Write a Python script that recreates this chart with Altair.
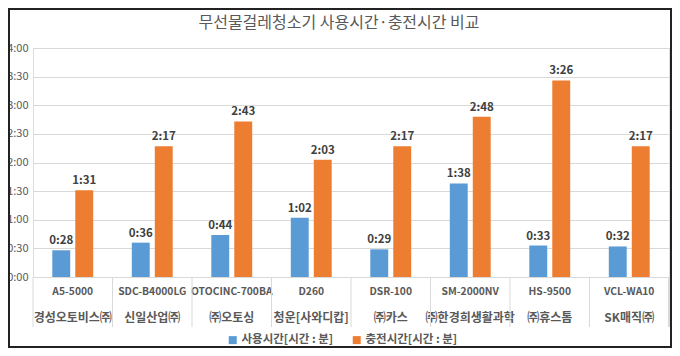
import altair as alt
import pandas as pd

models = ["A5-5000", "SDC-B4000LG", "OTOCINC-700BA", "D260", "DSR-100", "SM-2000NV", "HS-9500", "VCL-WA10"]
companies = ["경성오토비스㈜", "신일산업㈜", "㈜오토싱", "청운[사와디캅]", "㈜카스", "㈜한경희생활과학", "㈜휴스톰", "SK매직㈜"]
use_minutes = [28, 36, 44, 62, 29, 98, 33, 32]
charge_minutes = [91, 137, 163, 123, 137, 168, 206, 137]
series_names = ["사용시간[시간 : 분]", "충전시간[시간 : 분]"]
colors = ["#5B9BD5", "#ED7D31"]
title_text = "무선물걸레청소기 사용시간·충전시간 비교"
y_ticks = [0, 30, 60, 90, 120, 150, 180, 210, 240]

rows = []
for m, u, c in zip(models, use_minutes, charge_minutes):
    rows.append({"cat": m, "series": series_names[0], "v": u})
    rows.append({"cat": m, "series": series_names[1], "v": c})
df = pd.DataFrame(rows)
cat_df = pd.DataFrame({"cat": models, "company": companies})
title_df = pd.DataFrame({"t": [title_text]})

W, H = 636, 229
FONT = "Noto Sans CJK KR"

x_scale = alt.Scale(domain=models, paddingInner=0, paddingOuter=0)
x_enc = alt.X("cat:N", sort=models, title=None, scale=x_scale,
              axis=alt.Axis(labels=False, ticks=False, grid=False, domainColor="#d9d9d9"))
x_plain = alt.X("cat:N", sort=models, scale=x_scale)
xoff_scale = alt.Scale(paddingInner=0.22, paddingOuter=0.84)
xoff = alt.XOffset("series:N", sort=series_names, scale=xoff_scale)
y_scale = alt.Scale(domain=[0, 240], nice=False)
y_enc = alt.Y("v:Q", title=None, scale=y_scale,
              axis=alt.Axis(values=y_ticks, tickCount=9, ticks=False, domain=False,
                            gridColor="#d9d9d9", labelPadding=5,
                            labelExpr="floor(datum.value/60) + ':' + (datum.value % 60 == 0 ? '00' : '30')",
                            labelFontSize=11, labelColor="#595959", labelFont=FONT))
color_enc = alt.Color("series:N", sort=series_names,
                      scale=alt.Scale(domain=series_names, range=colors),
                      legend=alt.Legend(title=None, orient="none", legendX=194, legendY=286,
                                        direction="horizontal", columns=2, columnPadding=17,
                                        symbolType="square", symbolSize=64, symbolStrokeWidth=0,
                                        labelFontSize=11.5, labelColor="#595959", labelFont=FONT,
                                        labelFontWeight="bold", labelOffset=3, padding=0))

base = alt.Chart(df)
bars = base.mark_bar().encode(x=x_enc, xOffset=xoff, y=y_enc, color=color_enc)
labels = base.transform_calculate(
    lbl="floor(datum.v/60) + ':' + (datum.v % 60 < 10 ? '0' : '') + (datum.v % 60)"
).mark_text(baseline="bottom", dy=-4, fontSize=11.5, fontWeight="bold",
            color="#404040", font=FONT).encode(
    x=x_plain, xOffset=alt.XOffset("series:N", sort=series_names, scale=xoff_scale),
    y=alt.Y("v:Q", scale=y_scale), text="lbl:N")

model_txt = alt.Chart(cat_df).mark_text(baseline="middle", fontSize=10.3, fontWeight="bold",
                                        color="#595959", font=FONT).encode(
    x=alt.X("cat:N", sort=models, scale=x_scale, bandPosition=0.5),
    y=alt.value(H + 15), text="cat:N")
comp_txt = alt.Chart(cat_df).mark_text(baseline="middle", fontSize=12, fontWeight="bold",
                                       color="#595959", font=FONT).encode(
    x=alt.X("cat:N", sort=models, scale=x_scale, bandPosition=0.5),
    y=alt.value(H + 41), text="company:N")

seps = alt.Chart(cat_df).mark_rule(color="#d9d9d9", strokeWidth=1).encode(
    x=alt.X("cat:N", sort=models, scale=x_scale, bandPosition=0),
    y=alt.value(H), y2=alt.value(H + 50))
last_sep = alt.Chart(cat_df).mark_rule(color="#d9d9d9", strokeWidth=1).encode(
    x=alt.value(W), y=alt.value(H), y2=alt.value(H + 50))
border = alt.Chart(cat_df).mark_rect(fill=None, stroke="#222222", strokeWidth=2).encode(
    x=alt.value(-24), x2=alt.value(W + 2), y=alt.value(-39), y2=alt.value(H + 70))
title = alt.Chart(title_df).mark_text(baseline="middle", align="center", fontSize=16,
                                      color="#595959", font=FONT).encode(
    x=alt.value(306), y=alt.value(-25), text="t:N")

chart = alt.layer(bars, labels, model_txt, comp_txt, seps, last_sep, border, title).properties(
    width=W, height=H,
    autosize=alt.AutoSizeParams(type="none"),
    padding={"left": 25, "top": 40, "right": 3, "bottom": 71},
).configure_view(stroke=None).configure(background="white")

chart.save("out.html", embed_options={"renderer": "svg", "actions": False})
